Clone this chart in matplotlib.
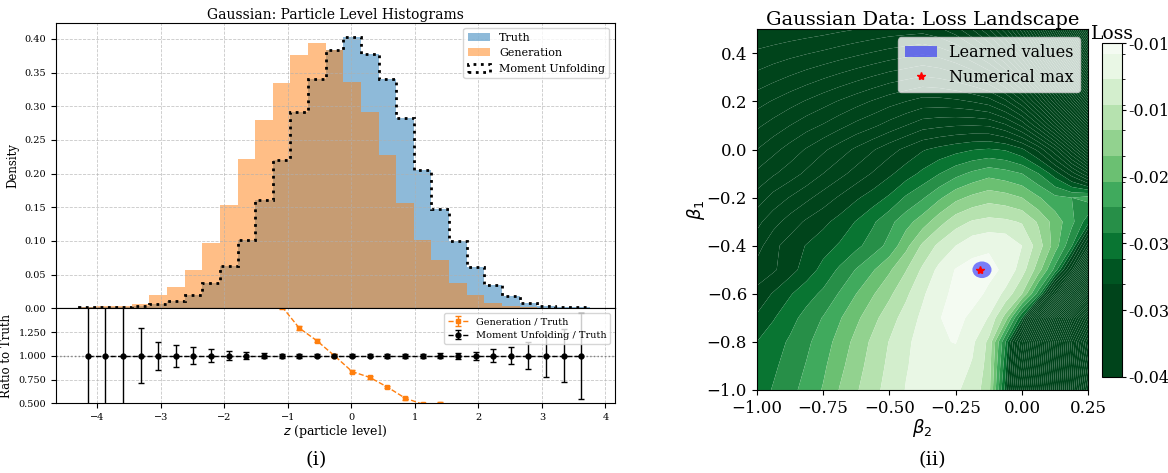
import numpy as np
import matplotlib
matplotlib.use('Agg')
import matplotlib.pyplot as plt
import matplotlib.cm as cm
from matplotlib.patches import Ellipse
from matplotlib.colors import Normalize, BoundaryNorm, ListedColormap
from matplotlib.ticker import FormatStrFormatter

plt.rcParams['font.family'] = 'serif'
plt.rcParams['font.serif'] = ['DejaVu Serif']

# ---- particle level histograms: 29 bins in z ----
z_lo, z_hi, n_bins = -4.29, 3.76, 29

truth_density = [0.0015, 0.0015, 0.002, 0.0035, 0.0064, 0.011, 0.020, 0.038, 0.063, 0.101,
                 0.161, 0.220, 0.291, 0.340, 0.384, 0.403, 0.378, 0.340, 0.283, 0.206,
                 0.147, 0.100, 0.062, 0.035, 0.019, 0.0074, 0.0035, 0.0025, 0.0015]
gen_density = [0.0025, 0.003, 0.0035, 0.0064, 0.020, 0.032, 0.057, 0.097, 0.153, 0.222,
               0.280, 0.335, 0.376, 0.394, 0.384, 0.336, 0.292, 0.228, 0.157, 0.101,
               0.072, 0.038, 0.020, 0.008, 0.004, 0.0015, 0.0, 0.0, 0.0]
unfold_density = [0.0015, 0.0015, 0.002, 0.0035, 0.0064, 0.011, 0.020, 0.038, 0.063, 0.101,
                  0.161, 0.220, 0.291, 0.340, 0.384, 0.403, 0.378, 0.340, 0.283, 0.206,
                  0.147, 0.100, 0.062, 0.035, 0.019, 0.0074, 0.0035, 0.0025, 0.0015]
unfold_ratio_err = [0.9, 0.8, 0.6, 0.29, 0.15, 0.115, 0.088, 0.068, 0.048, 0.035,
                    0.028, 0.022, 0.018, 0.016, 0.015, 0.015, 0.016, 0.018, 0.02, 0.024,
                    0.028, 0.033, 0.044, 0.07, 0.09, 0.14, 0.22, 0.28, 0.45]
gen_ratio_err = [0.1, 0.1, 0.1, 0.05, 0.05, 0.05, 0.05, 0.05, 0.04, 0.03,
                 0.03, 0.025, 0.02, 0.017, 0.015, 0.014, 0.014, 0.014, 0.015, 0.017,
                 0.02, 0.022, 0.03, 0.04, 0.06, 0.1, 0.0, 0.0, 0.0]

# ---- loss landscape, sampled on a (beta1, beta2) grid, in units of 1e-3 ----
beta2 = np.linspace(-1.0, 0.25, 21)
beta1 = np.linspace(-1.0, 0.5, 16)
loss_milli = [
    [-27.25, -25.8, -24.28, -22.63, -20.8, -18.35, -16.28, -14.35, -12.5, -10.88, -10.08,
     -9.8, -10.6, -12.03, -15.0, -29.4, -50.25, -71.0, -92.0, -112.75, -136.0],
    [-27.88, -26.45, -24.95, -23.33, -21.5, -19.2, -16.98, -14.9, -12.93, -11.18, -10.05,
     -9.28, -9.63, -11.25, -14.5, -27.65, -46.75, -68.0, -89.5, -110.75, -131.0],
    [-28.5, -27.1, -25.65, -24.03, -22.2, -20.08, -17.68, -15.45, -13.38, -11.48, -10.03,
     -8.75, -8.4, -10.45, -14.08, -25.9, -43.25, -65.0, -87.0, -108.5, -126.0],
    [-30.63, -28.7, -26.88, -25.1, -23.35, -21.25, -19.08, -16.78, -14.58, -12.45, -10.45,
     -8.58, -7.88, -8.95, -11.18, -16.95, -28.5, -51.0, -74.5, -96.0, -113.5],
    [-32.75, -30.75, -28.75, -27.0, -25.5, -23.25, -21.0, -18.75, -16.5, -14.0, -11.38,
     -9.28, -7.88, -7.75, -8.88, -11.7, -16.0, -24.65, -42.25, -65.75, -88.5],
    [-35.0, -33.88, -32.0, -29.85, -27.68, -25.55, -23.33, -21.25, -18.88, -16.13, -13.05,
     -10.33, -8.35, -7.68, -7.95, -8.88, -12.33, -17.35, -24.43, -37.75, -62.25],
    [-37.13, -34.18, -32.38, -30.85, -29.55, -28.2, -26.63, -24.83, -22.73, -19.25, -15.5,
     -12.88, -11.0, -9.38, -8.75, -9.0, -11.0, -14.75, -19.75, -25.75, -40.25],
    [-39.25, -36.98, -34.9, -33.1, -31.68, -30.1, -28.35, -26.4, -24.23, -21.98, -19.75,
     -17.0, -14.58, -13.25, -12.75, -13.0, -13.75, -16.38, -19.6, -22.75, -27.5],
    [-42.5, -40.1, -38.35, -36.63, -34.9, -33.15, -31.38, -29.83, -28.08, -25.63, -23.8,
     -21.48, -19.23, -17.88, -16.98, -17.5, -18.5, -20.75, -22.88, -23.5, -22.5],
    [-45.5, -43.83, -42.25, -40.45, -38.5, -36.78, -35.03, -33.28, -31.48, -29.68, -27.9,
     -26.08, -24.33, -22.93, -21.83, -22.5, -23.5, -26.0, -29.75, -34.75, -41.0],
    [-48.5, -46.75, -45.0, -43.25, -41.5, -39.75, -38.0, -36.25, -34.5, -32.88, -31.25,
     -30.25, -29.38, -28.63, -28.25, -28.75, -30.5, -34.25, -40.5, -49.75, -61.0],
    [-51.5, -50.0, -48.5, -47.0, -45.75, -44.25, -42.75, -41.5, -40.0, -38.5, -37.0,
     -36.5, -36.13, -36.0, -36.25, -38.0, -41.5, -48.0, -56.75, -68.0, -81.0],
    [-54.5, -53.25, -52.0, -50.75, -49.5, -48.25, -47.0, -45.75, -44.5, -43.5, -42.5,
     -42.5, -42.88, -43.63, -44.75, -47.75, -53.0, -61.5, -73.0, -86.0, -101.0],
    [-57.75, -56.75, -55.75, -54.75, -53.75, -52.75, -51.75, -50.75, -49.75, -49.0, -48.25,
     -48.75, -49.75, -51.25, -53.5, -57.75, -64.5, -74.75, -88.0, -103.5, -121.0],
    [-60.5, -59.88, -59.25, -58.63, -58.0, -57.25, -56.5, -55.75, -55.0, -54.38, -53.75,
     -54.5, -56.0, -58.5, -62.0, -67.5, -76.0, -88.5, -104.75, -122.25, -141.0],
    [-63.5, -63.13, -62.75, -62.38, -62.0, -61.5, -61.0, -60.5, -60.0, -59.75, -59.5,
     -60.5, -62.5, -66.0, -70.75, -77.5, -87.5, -101.5, -119.75, -139.75, -161.0],
]
learned_beta = (-0.151, -0.50)
learned_size = (0.072, 0.069)
numerical_max = (-0.158, -0.50)

edges = np.linspace(z_lo, z_hi, n_bins + 1)
centers = 0.5 * (edges[1:] + edges[:-1])
truth = np.array(truth_density)
gen = np.array(gen_density)
unfold = np.array(unfold_density)
gen_ratio = gen / truth
unfold_ratio = unfold / truth

fig = plt.figure(figsize=(11.68, 4.73), dpi=100)
ax = fig.add_axes([0.0479, 0.3482, 0.4786, 0.6038])
axr = fig.add_axes([0.0479, 0.1474, 0.4786, 0.2008], sharex=ax)

grid_kw = dict(ls='--', color='#b0b0b0', lw=0.6, alpha=0.7)

ax.hist(centers, bins=edges, weights=truth, color='#1f77b4', alpha=0.5, label='Truth')
ax.hist(centers, bins=edges, weights=gen, color='#ff7f0e', alpha=0.5, label='Generation')
ax.hist(centers, bins=edges, weights=unfold, histtype='step', color='black', ls=':', lw=2,
        label='Moment Unfolding')
ax.set_xlim(-4.65, 4.15)
ax.set_ylim(0, 0.424)
ax.set_yticks(np.arange(0, 0.41, 0.05))
ax.yaxis.set_major_formatter(FormatStrFormatter('%.2f'))
ax.tick_params(axis='x', labelbottom=False, length=0)
ax.tick_params(axis='y', labelsize=7)
ax.set_ylabel('Density', fontsize=8.5)
ax.set_title('Gaussian: Particle Level Histograms', fontsize=10, pad=3)
ax.grid(True, **grid_kw)
ax.legend(loc='upper right', fontsize=8)

axr.axhline(1.0, color='gray', ls=':', lw=1)
axr.errorbar(centers, gen_ratio, yerr=gen_ratio_err, fmt='s--', color='#ff7f0e', ms=3,
             lw=1, elinewidth=1, capsize=2, label='Generation / Truth')
axr.errorbar(centers, unfold_ratio, yerr=unfold_ratio_err, fmt='o--', color='black', ms=3.5,
             lw=1, elinewidth=1, capsize=2, label='Moment Unfolding / Truth')
axr.set_ylim(0.5, 1.5)
axr.set_yticks([0.5, 0.75, 1.0, 1.25])
axr.yaxis.set_major_formatter(FormatStrFormatter('%.3f'))
axr.set_xticks(np.arange(-4, 5, 1))
axr.tick_params(labelsize=7)
axr.set_ylabel('Ratio to Truth', fontsize=8.5)
axr.set_xlabel('$z$ (particle level)', fontsize=9, labelpad=1)
axr.grid(True, **grid_kw)
axr.legend(loc='upper right', fontsize=7)

# ---- loss landscape ----
axm = fig.add_axes([0.6479, 0.1755, 0.2839, 0.7625])
cax = fig.add_axes([0.9438, 0.2036, 0.0171, 0.7049])

loss = np.array(loss_milli) * 1e-3
levels = np.append(-0.0085 - 0.0025 * np.arange(62, -1, -1), -0.0075)
norm = Normalize(vmin=-0.031, vmax=-0.0075)
cmap = plt.get_cmap('Greens_r')
axm.contourf(beta2, beta1, loss, levels=levels, cmap=cmap, norm=norm, antialiased=True)

axm.add_patch(Ellipse(learned_beta, learned_size[0], learned_size[1], color='blue', alpha=0.5,
                      lw=0, label='Learned values'))
axm.plot(*numerical_max, 'r*', ms=6, ls='none', label='Numerical max')
axm.set_xlim(-1.0, 0.25)
axm.set_ylim(-1.0, 0.5)
axm.set_xticks([-1.0, -0.75, -0.5, -0.25, 0.0, 0.25])
axm.tick_params(labelsize=12)
axm.set_xlabel(r'$\beta_2$', fontsize=13, labelpad=0)
axm.set_ylabel(r'$\beta_1$', fontsize=13, labelpad=0)
axm.set_title('Gaussian Data: Loss Landscape', fontsize=14, pad=3)
axm.legend(loc='upper right', fontsize=11.5)

cb_bounds = np.append(-0.04, levels[levels > -0.0312])
cb_mids = 0.5 * (cb_bounds[1:] + cb_bounds[:-1])
cb_colors = cmap(norm(cb_mids))
sm = cm.ScalarMappable(norm=BoundaryNorm(cb_bounds, len(cb_colors)), cmap=ListedColormap(cb_colors))
cb = fig.colorbar(sm, cax=cax, spacing='proportional',
                  ticks=np.linspace(-0.04, -0.0075, 6), format='%.2f')
cb.ax.tick_params(labelsize=11.5, length=3, pad=1)
cb.ax.set_title('Loss', fontsize=13.5, pad=2)

fig.text(316 / 1168, 1 - 460 / 473, '(i)', ha='center', va='center', fontsize=14)
fig.text(932 / 1168, 1 - 460 / 473, '(ii)', ha='center', va='center', fontsize=14)

fig.savefig('out.png', dpi=100)
